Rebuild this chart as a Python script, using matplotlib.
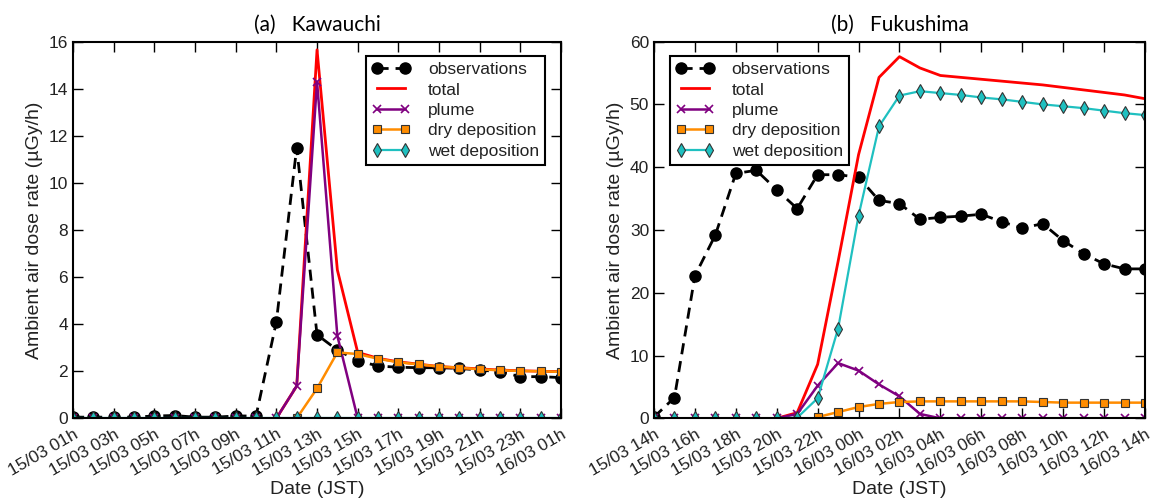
#!/usr/bin/env python3
"""Ambient air dose rate at Kawauchi and Fukushima: observations vs model components."""

import numpy as np
import matplotlib
matplotlib.use('Agg')
import matplotlib.pyplot as plt

nan = np.nan

# (a) Kawauchi, hourly 15/03 01h .. 16/03 01h
kaw_labels = ['15/03 01h', '15/03 03h', '15/03 05h', '15/03 07h', '15/03 09h',
              '15/03 11h', '15/03 13h', '15/03 15h', '15/03 17h', '15/03 19h',
              '15/03 21h', '15/03 23h', '16/03 01h']
kaw_obs = [0.05, 0.05, 0.05, 0.05, 0.1, 0.12, 0.05, 0.05, 0.1, 0.1, 4.1, 11.5, 3.55,
           2.9, 2.45, 2.22, 2.17, 2.15, 2.15, 2.12, 2.05, 1.98, 1.77, 1.77, 1.73]
kaw_total = [nan, nan, nan, nan, nan, nan, nan, nan, nan, nan, 0.0, 1.37, 15.65,
             6.3, 2.8, 2.55, 2.4, 2.3, 2.2, 2.15, 2.1, 2.05, 2.02, 2.0, 1.98]
kaw_plume = [0, 0, 0, 0, 0, 0, 0, 0, 0, 0, 0, 1.37, 14.3,
             3.5, 0, 0, 0, 0, 0, 0, 0, 0, 0, 0, 0]
kaw_dry = [nan, nan, nan, nan, nan, nan, nan, nan, nan, nan, nan, 0.0, 1.27,
           2.8, 2.73, 2.53, 2.38, 2.29, 2.2, 2.15, 2.08, 2.04, 2.01, 2.0, 1.97]
kaw_wet = [0] * 25

# (b) Fukushima, hourly 15/03 14h .. 16/03 14h
fuk_labels = ['15/03 14h', '15/03 16h', '15/03 18h', '15/03 20h', '15/03 22h',
              '16/03 00h', '16/03 02h', '16/03 04h', '16/03 06h', '16/03 08h',
              '16/03 10h', '16/03 12h', '16/03 14h']
fuk_obs = [0.2, 3.3, 22.7, 29.2, 39.0, 39.5, 36.4, 33.4, 38.8, 38.8, 38.4, 34.7,
           34.2, 31.7, 32.0, 32.2, 32.5, 31.3, 30.3, 31.0, 28.3, 26.2, 24.6, 23.8, 23.8]
fuk_total = [nan, nan, nan, nan, nan, nan, 0.0, 0.9, 8.6, 25.0, 42.0, 54.3,
             57.6, 55.8, 54.6, 54.3, 54.0, 53.7, 53.4, 53.1, 52.7, 52.3, 51.9, 51.5, 50.9]
fuk_plume = [0, 0, 0, 0, 0, 0, 0, 0.7, 5.2, 8.8, 7.6, 5.4,
             3.5, 0.7, 0, 0, 0, 0, 0, 0, 0, 0, 0, 0, 0]
fuk_dry = [nan, nan, nan, nan, nan, nan, nan, nan, 0.2, 1.0, 1.8, 2.3,
           2.6, 2.7, 2.7, 2.7, 2.7, 2.7, 2.7, 2.6, 2.5, 2.5, 2.5, 2.5, 2.5]
fuk_wet = [0, 0, 0, 0, 0, 0, 0, 0.1, 3.2, 14.3, 32.3, 46.5,
           51.4, 52.1, 51.8, 51.5, 51.1, 50.8, 50.4, 50.0, 49.7, 49.4, 49.0, 48.6, 48.3]

TXT = '#222222'
plt.rcParams['font.family'] = ['Liberation Sans', 'DejaVu Sans']


def draw(ax, obs, total, plume, dry, wet, labels, ymax, ystep, title, legend_loc, legend_anchor):
    x = np.arange(len(obs))
    ax.plot(x, obs, color='black', linestyle=(0, (4, 2.5)), linewidth=2,
            marker='o', markersize=8, label='observations')
    ax.plot(x, total, color='red', linewidth=2, label='total')
    ax.plot(x, plume, color='purple', linewidth=1.8, marker='x', markersize=6,
            markeredgewidth=1.2, label='plume')
    ax.plot(x, dry, color='darkorange', linewidth=1.8, marker='s', markersize=6,
            markerfacecolor='darkorange', markeredgecolor='#333333', markeredgewidth=0.8,
            label='dry deposition')
    ax.plot(x, wet, color='#1fc0c0', linewidth=1.6, marker='d', markersize=7,
            markerfacecolor='#1fc0c0', markeredgecolor='#333333', markeredgewidth=0.8,
            label='wet deposition')

    ax.set_xlim(0, len(obs) - 1)
    ax.set_ylim(0, ymax)
    ax.set_xticks(x[::2])
    ax.set_xticklabels(labels, rotation=30, ha='right', rotation_mode='anchor')
    ax.set_yticks(np.arange(0, ymax + 0.1, ystep))
    ax.tick_params(direction='in', top=True, right=True, length=7, width=1,
                   labelsize=12.5, colors='black', labelcolor=TXT)
    ax.tick_params(axis='x', pad=6)
    for sp in ax.spines.values():
        sp.set_linewidth(1.5)

    ax.set_xlabel('Date (JST)', fontsize=14, color=TXT, labelpad=2)
    ax.set_ylabel('Ambient air dose rate (\u00b5Gy/h)', fontsize=14, color=TXT)
    ax.set_title(title, fontsize=15, family=['Lato', 'DejaVu Sans'], pad=8)

    leg = ax.legend(loc=legend_loc, bbox_to_anchor=legend_anchor, fontsize=12.5,
                    fancybox=False, framealpha=1, edgecolor='black', numpoints=2,
                    handlelength=2.2, borderpad=0.35, labelspacing=0.3,
                    handletextpad=1.0)
    leg.get_frame().set_linewidth(1.5)
    for t in leg.get_texts():
        t.set_color(TXT)


fig = plt.figure(figsize=(11.52, 5.01), dpi=100)
ax1 = fig.add_axes([0.0634, 0.165, 0.4236, 0.752])
ax2 = fig.add_axes([0.5677, 0.165, 0.4262, 0.752])

draw(ax1, kaw_obs, kaw_total, kaw_plume, kaw_dry, kaw_wet, kaw_labels, 16, 2,
     '(a)   Kawauchi', 'upper right', (0.985, 0.985))
draw(ax2, fuk_obs, fuk_total, fuk_plume, fuk_dry, fuk_wet, fuk_labels, 60, 10,
     '(b)   Fukushima', 'upper left', (0.015, 0.985))

fig.savefig('out.png', dpi=100)
